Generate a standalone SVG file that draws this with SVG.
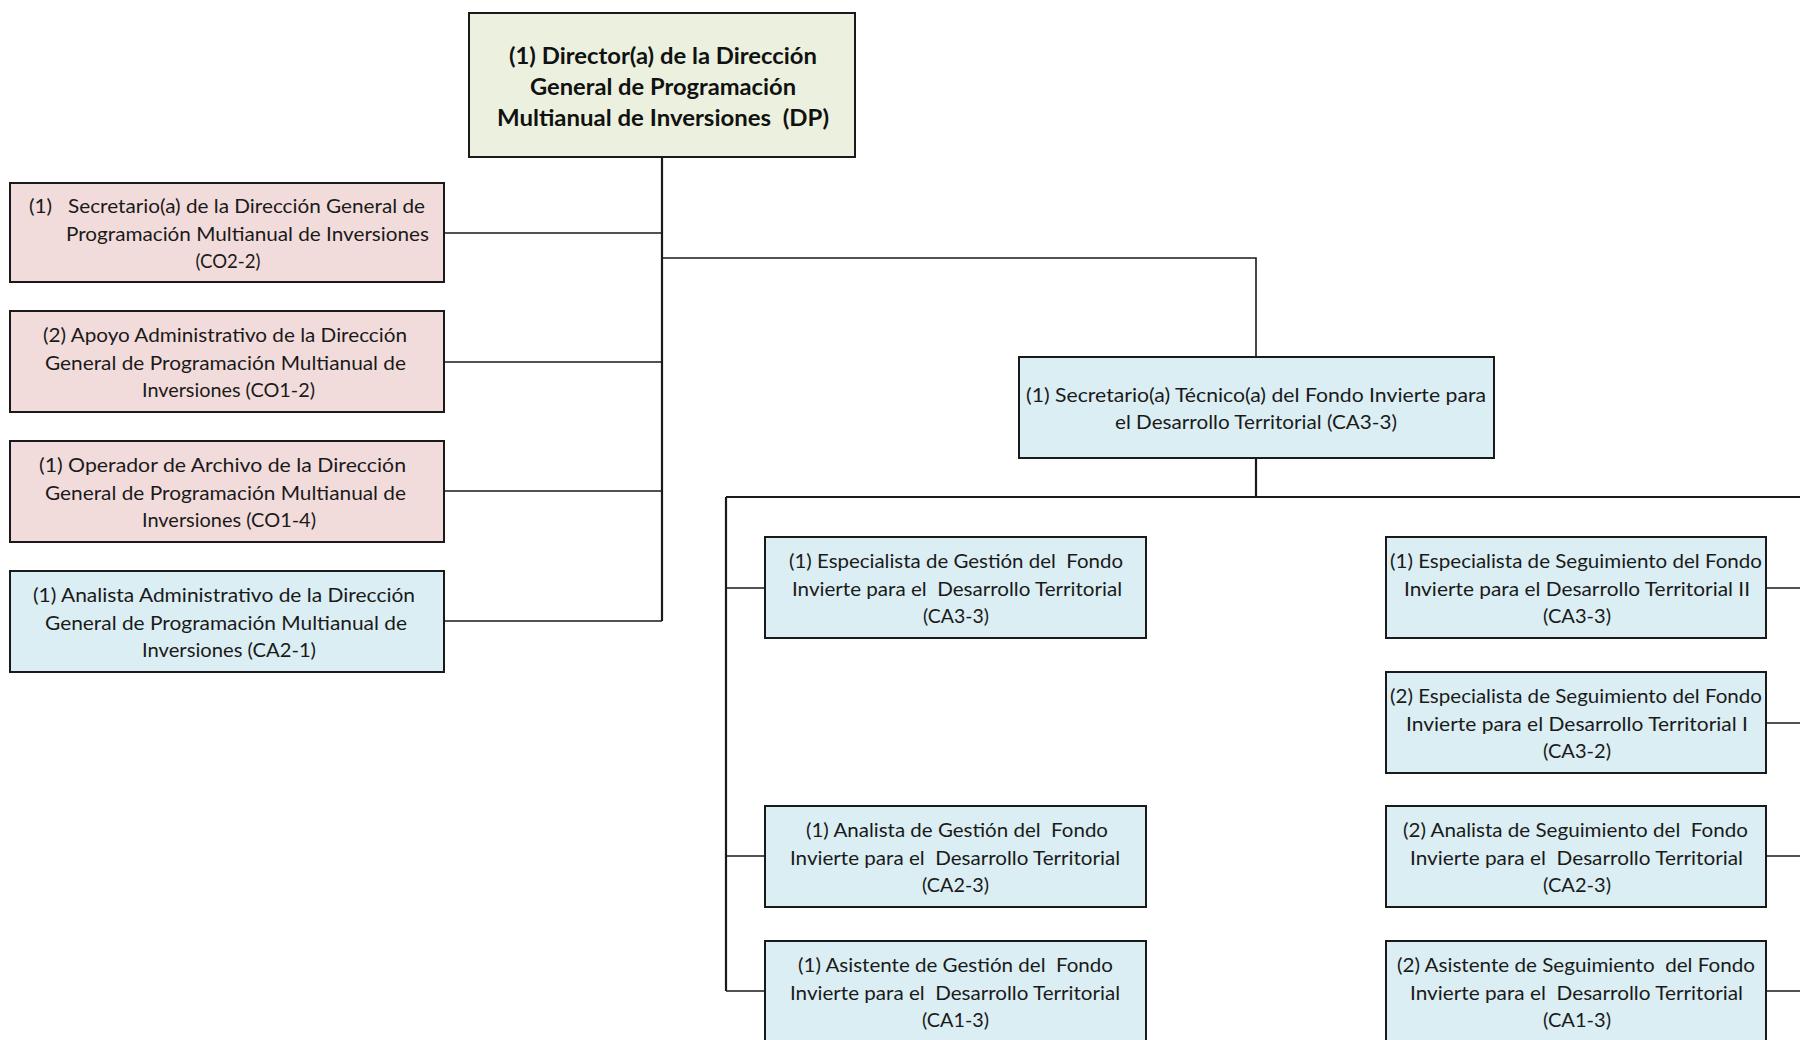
<svg xmlns="http://www.w3.org/2000/svg" width="1800" height="1040" viewBox="0 0 1800 1040">
<style>
.box{stroke:#1a1a1a;stroke-width:2}
.g{fill:#EBF1DE}.p{fill:#F2DCDB}.b{fill:#DAEEF3}
text{font-family:Lato,"Noto Sans","Liberation Sans",sans-serif;font-size:19px;fill:#1a1a1a;text-anchor:middle;white-space:pre}
.bold{font-weight:bold;font-size:23px;fill:#111}
.c{fill:none;stroke:#1a1a1a;stroke-width:1.6}
.ct{fill:none;stroke:#1a1a1a;stroke-width:2.2}
</style>
<rect width="1800" height="1040" fill="#ffffff"/>
<g id="connectors">
<path class="ct" d="M662,157 V621"/>
<path class="c" d="M444,233 H662 M444,362 H662 M444,491 H662 M444,621 H662"/>
<path class="c" d="M662,258 H1256 V357"/>
<path class="ct" d="M1256,458 V497 M726,497 H1800"/>
<path class="ct" d="M726,497 V991"/>
<path class="c" d="M726,588 H765 M726,856 H765 M726,991 H765"/>
<path class="c" d="M1766,588 H1800 M1766,723 H1800 M1766,856 H1800 M1766,991 H1800"/>
</g>
<g id="n-director">
<rect class="box g" x="469" y="13" width="386" height="144"/>
<text class="bold" x="663" y="64" textLength="308" lengthAdjust="spacingAndGlyphs">(1) Director(a) de la Dirección</text>
<text class="bold" x="663" y="95" textLength="266" lengthAdjust="spacingAndGlyphs">General de Programación</text>
<text class="bold" x="663" y="126" textLength="332" lengthAdjust="spacingAndGlyphs">Multianual de Inversiones  (DP)</text>
</g>
<g id="n-secretario">
<rect class="box p" x="10" y="183" width="434" height="99"/>
<text x="227" y="213" textLength="396" lengthAdjust="spacingAndGlyphs">(1)   Secretario(a) de la Dirección General de</text>
<text x="247.5" y="240.5" textLength="363" lengthAdjust="spacingAndGlyphs">Programación Multianual de Inversiones</text>
<text x="228" y="268" textLength="65" lengthAdjust="spacingAndGlyphs">(CO2-2)</text>
</g>
<g id="n-apoyo">
<rect class="box p" x="10" y="311" width="434" height="101"/>
<text x="225" y="342" textLength="364" lengthAdjust="spacingAndGlyphs">(2) Apoyo Administrativo de la Dirección</text>
<text x="225.5" y="369.5" textLength="361" lengthAdjust="spacingAndGlyphs">General de Programación Multianual de</text>
<text x="228.5" y="397" textLength="173" lengthAdjust="spacingAndGlyphs">Inversiones (CO1-2)</text>
</g>
<g id="n-operador">
<rect class="box p" x="10" y="441" width="434" height="101"/>
<text x="222.5" y="472" textLength="367" lengthAdjust="spacingAndGlyphs">(1) Operador de Archivo de la Dirección</text>
<text x="225.5" y="499.5" textLength="361" lengthAdjust="spacingAndGlyphs">General de Programación Multianual de</text>
<text x="229" y="527" textLength="174" lengthAdjust="spacingAndGlyphs">Inversiones (CO1-4)</text>
</g>
<g id="n-analista-adm">
<rect class="box b" x="10" y="571" width="434" height="101"/>
<text x="224" y="602" textLength="382" lengthAdjust="spacingAndGlyphs">(1) Analista Administrativo de la Dirección</text>
<text x="226" y="629.5" textLength="362" lengthAdjust="spacingAndGlyphs">General de Programación Multianual de</text>
<text x="229" y="657" textLength="174" lengthAdjust="spacingAndGlyphs">Inversiones (CA2-1)</text>
</g>
<g id="n-sec-tecnico">
<rect class="box b" x="1019" y="357" width="475" height="101"/>
<text x="1256" y="402" textLength="460" lengthAdjust="spacingAndGlyphs">(1) Secretario(a) Técnico(a) del Fondo Invierte para</text>
<text x="1256" y="429" textLength="282" lengthAdjust="spacingAndGlyphs">el Desarrollo Territorial (CA3-3)</text>
</g>
<g id="n-esp-gestion">
<rect class="box b" x="765" y="537" width="381" height="101"/>
<text x="956" y="568" textLength="334" lengthAdjust="spacingAndGlyphs">(1) Especialista de Gestión del  Fondo</text>
<text x="957" y="595.5" textLength="330" lengthAdjust="spacingAndGlyphs">Invierte para el  Desarrollo Territorial</text>
<text x="956" y="623" textLength="66" lengthAdjust="spacingAndGlyphs">(CA3-3)</text>
</g>
<g id="n-ana-gestion">
<rect class="box b" x="765" y="806" width="381" height="101"/>
<text x="957" y="837" textLength="302" lengthAdjust="spacingAndGlyphs">(1) Analista de Gestión del  Fondo</text>
<text x="955" y="864.5" textLength="330" lengthAdjust="spacingAndGlyphs">Invierte para el  Desarrollo Territorial</text>
<text x="955.5" y="892" textLength="67" lengthAdjust="spacingAndGlyphs">(CA2-3)</text>
</g>
<g id="n-asi-gestion">
<rect class="box b" x="765" y="941" width="381" height="106"/>
<text x="955.5" y="972" textLength="315" lengthAdjust="spacingAndGlyphs">(1) Asistente de Gestión del  Fondo</text>
<text x="955" y="999.5" textLength="330" lengthAdjust="spacingAndGlyphs">Invierte para el  Desarrollo Territorial</text>
<text x="955.5" y="1027" textLength="67" lengthAdjust="spacingAndGlyphs">(CA1-3)</text>
</g>
<g id="n-esp-seg-2">
<rect class="box b" x="1386" y="537" width="380" height="101"/>
<text x="1576" y="568" textLength="372" lengthAdjust="spacingAndGlyphs">(1) Especialista de Seguimiento del Fondo</text>
<text x="1577" y="595.5" textLength="346" lengthAdjust="spacingAndGlyphs">Invierte para el Desarrollo Territorial II</text>
<text x="1577" y="623" textLength="68" lengthAdjust="spacingAndGlyphs">(CA3-3)</text>
</g>
<g id="n-esp-seg-1">
<rect class="box b" x="1386" y="672" width="380" height="101"/>
<text x="1576" y="703" textLength="372" lengthAdjust="spacingAndGlyphs">(2) Especialista de Seguimiento del Fondo</text>
<text x="1577" y="730.5" textLength="342" lengthAdjust="spacingAndGlyphs">Invierte para el Desarrollo Territorial I</text>
<text x="1577" y="758" textLength="68" lengthAdjust="spacingAndGlyphs">(CA3-2)</text>
</g>
<g id="n-ana-seg">
<rect class="box b" x="1386" y="806" width="380" height="101"/>
<text x="1575.5" y="837" textLength="345" lengthAdjust="spacingAndGlyphs">(2) Analista de Seguimiento del  Fondo</text>
<text x="1576.5" y="864.5" textLength="333" lengthAdjust="spacingAndGlyphs">Invierte para el  Desarrollo Territorial</text>
<text x="1577" y="892" textLength="68" lengthAdjust="spacingAndGlyphs">(CA2-3)</text>
</g>
<g id="n-asi-seg">
<rect class="box b" x="1386" y="941" width="380" height="106"/>
<text x="1576" y="972" textLength="358" lengthAdjust="spacingAndGlyphs">(2) Asistente de Seguimiento  del Fondo</text>
<text x="1576.5" y="999.5" textLength="333" lengthAdjust="spacingAndGlyphs">Invierte para el  Desarrollo Territorial</text>
<text x="1577" y="1027" textLength="68" lengthAdjust="spacingAndGlyphs">(CA1-3)</text>
</g>
</svg>
